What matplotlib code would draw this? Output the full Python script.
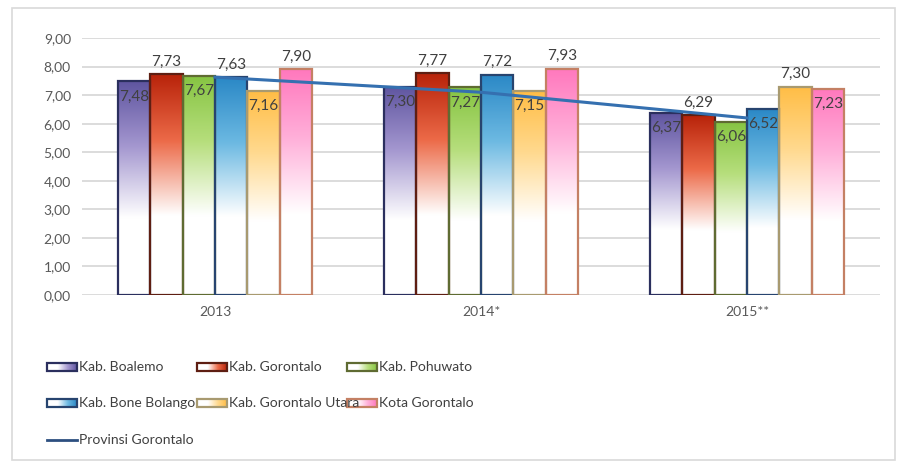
import numpy as np
import matplotlib
matplotlib.use("Agg")
import matplotlib.pyplot as plt
from matplotlib.colors import to_rgb
from matplotlib.patches import Rectangle

plt.rcParams["font.family"] = ["Lato", "DejaVu Sans"]

# ===== Data =====
years = ["2013", "2014*", "2015**"]
series_names = ["Kab. Boalemo", "Kab. Gorontalo", "Kab. Pohuwato",
                "Kab. Bone Bolango", "Kab. Gorontalo Utara", "Kota Gorontalo"]
boalemo = [7.48, 7.30, 6.37]
gorontalo = [7.73, 7.77, 6.29]
pohuwato = [7.67, 7.27, 6.06]
bone_bolango = [7.63, 7.72, 6.52]
gorontalo_utara = [7.16, 7.15, 7.30]
kota_gorontalo = [7.90, 7.93, 7.23]
provinsi_name = "Provinsi Gorontalo"
provinsi = [7.63, 7.10, 6.20]
yticks = np.arange(0, 10, 1)

series = [boalemo, gorontalo, pohuwato, bone_bolango, gorontalo_utara, kota_gorontalo]

# ===== Styles =====
top_colors = ["#5f55a0", "#b8230a", "#86c442", "#2a88c6", "#ffbd45", "#ff78bd"]
mid_colors = ["#a396cf", "#ec6a48", "#b6de7c", "#6cb9e2", "#ffd98e", "#ffafd9"]
edge_colors = ["#2b2f5e", "#5e1e12", "#5f6b32", "#27446f", "#a89a70", "#c48064"]
# labels drawn above the bar top (group, series); the rest sit just inside
labels_above = {(0, 1), (0, 3), (0, 5), (1, 1), (1, 3), (1, 5), (2, 1), (2, 4)}
text_col = "#404040"
W, H = 900, 468


def gradient_img(top, mid, n=256, horizontal=False):
    t = np.linspace(0, 1, n)
    stops = [0.0, 0.36, 0.70, 1.0]
    cols = [(1, 1, 1), (1, 1, 1), to_rgb(mid), to_rgb(top)]
    img = np.stack([np.interp(t, stops, [c[k] for c in cols]) for k in range(3)], axis=-1)
    if horizontal:
        return img[np.newaxis, :, :]
    return img[:, np.newaxis, :]


fig = plt.figure(figsize=(W / 100, H / 100), dpi=100)
fig.patch.set_facecolor("white")
ax = fig.add_axes([82 / W, 1 - 295 / H, 798 / W, 257 / H])

n = len(series)
group_w = 0.73
bw = group_w / n
x = np.arange(len(years))

for j, vals in enumerate(series):
    for i, v in enumerate(vals):
        x0 = x[i] - group_w / 2 + j * bw
        ax.imshow(gradient_img(top_colors[j], mid_colors[j]), extent=[x0, x0 + bw, 0, v],
                  origin="lower", aspect="auto", zorder=2, interpolation="bilinear")
        ax.add_patch(Rectangle((x0, 0), bw, v, fill=False, edgecolor=edge_colors[j],
                               lw=1.6, zorder=3))
        lbl = f"{v:.2f}".replace(".", ",")
        dy = 9 if (i, j) in labels_above else -11
        ax.annotate(lbl, (x0 + bw / 2, v), xytext=(0, dy), textcoords="offset points",
                    ha="center", va="center", fontsize=11, color=text_col, zorder=5)

ax.plot(x, provinsi, color="#3570b0", lw=2.2, zorder=4)

ax.set_xlim(-0.5, len(years) - 0.5)
ax.set_ylim(0, 9)
ax.set_yticks(yticks)
ax.set_yticklabels([f"{t:.2f}".replace(".", ",") for t in yticks])
ax.set_xticks(x)
ax.set_xticklabels(years)
ax.tick_params(length=0, labelsize=10, labelcolor="#595959", pad=8)
ax.yaxis.grid(True, color="#d9d9d9", lw=1.3, zorder=0)
ax.set_axisbelow(True)
for s in ax.spines.values():
    s.set_visible(False)

# ===== Legend =====
lg = fig.add_axes([0, 0, 1, 1], zorder=10)
lg.axis("off")
lg.patch.set_alpha(0)
col_x = [47, 197, 347]
row_y = [367, 403, 440]
for k, name in enumerate(series_names):
    hx, hy = col_x[k % 3], row_y[k // 3]
    lg.imshow(gradient_img(top_colors[k], mid_colors[k], horizontal=True),
              extent=[hx, hx + 30, hy + 4, hy - 4], aspect="auto", interpolation="bilinear")
    lg.add_patch(Rectangle((hx, hy - 4), 30, 8, fill=False, edgecolor=edge_colors[k], lw=1.6))
    lg.text(hx + 32, hy, name, va="center", ha="left", fontsize=10, color=text_col)
hx, hy = col_x[0], row_y[2]
lg.plot([hx, hx + 30], [hy, hy], color="#2d4f80", lw=2)
lg.text(hx + 32, hy, provinsi_name, va="center", ha="left", fontsize=10, color=text_col)
lg.set_xlim(0, W)
lg.set_ylim(H, 0)

# outer frame
fig.add_artist(Rectangle((12 / W, 8 / H), 883 / W, 452 / H, transform=fig.transFigure,
                         fill=False, edgecolor="#d9d9d9", lw=1.2))

fig.savefig("out.png", dpi=100)
